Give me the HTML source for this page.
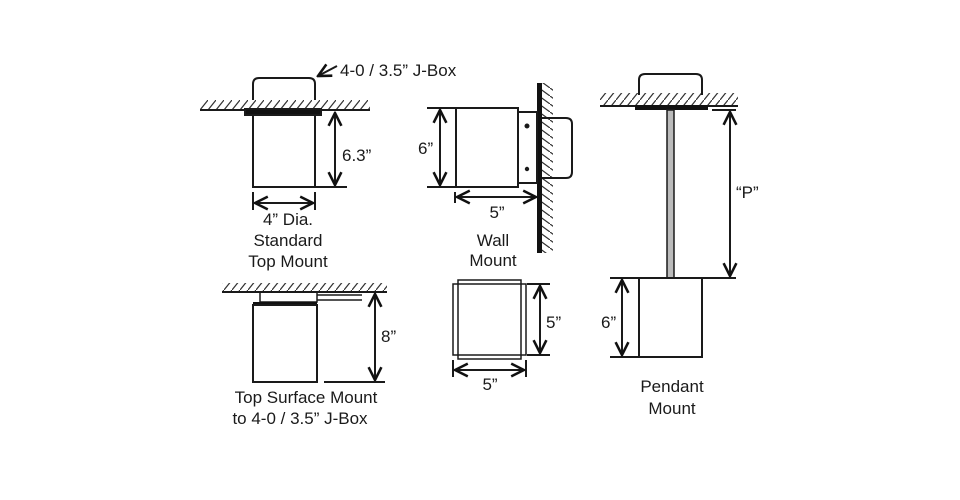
<!DOCTYPE html>
<html><head><meta charset="utf-8"><style>html,body{margin:0;padding:0;background:#fff}svg{display:block}</style></head>
<body>
<svg width="960" height="500" viewBox="0 0 960 500" xmlns="http://www.w3.org/2000/svg" font-family="Liberation Sans, Arial, sans-serif" fill="none" stroke="#1a1a1a">
<defs>
<pattern id="h" width="8" height="10" patternUnits="userSpaceOnUse"><path d="M0 10 L8 0" stroke="#333" stroke-width="1.2"/></pattern>
<pattern id="hv" width="11" height="8" patternUnits="userSpaceOnUse"><path d="M0 0 L11 8" stroke="#333" stroke-width="1.2"/></pattern>
<marker id="a" viewBox="0 0 10 10" refX="9" refY="5" markerWidth="8" markerHeight="8" orient="auto-start-reverse"><path d="M1 1 L9 5 L1 9" stroke="#111" stroke-width="1.6" fill="none"/></marker>
</defs>
<g stroke-width="2">
<!-- Standard top mount -->
<rect x="200" y="100" width="170" height="10" fill="url(#h)" stroke="none"/>
<line x1="200" y1="110" x2="370" y2="110"/>
<path d="M253 100 V84 Q253 78 259 78 H309 Q315 78 315 84 V100"/>
<rect x="245" y="109" width="76" height="6" fill="#111"/>
<rect x="253" y="115" width="62" height="72"/>
<line x1="335" y1="113" x2="335" y2="185" marker-start="url(#a)" marker-end="url(#a)"/>
<line x1="315" y1="187" x2="347" y2="187"/>
<line x1="253" y1="192" x2="253" y2="210"/><line x1="315" y1="192" x2="315" y2="210"/>
<line x1="255" y1="203" x2="313" y2="203" marker-start="url(#a)" marker-end="url(#a)"/>
<line x1="337" y1="66" x2="318" y2="76" marker-end="url(#a)"/>
<!-- Wall mount -->
<rect x="542" y="83" width="11" height="170" fill="url(#hv)" stroke="none"/>
<rect x="537" y="83" width="5" height="170" fill="#111" stroke="none"/>
<path d="M542 118 H566 Q572 118 572 124 V172 Q572 178 566 178 H542"/>
<rect x="518" y="112" width="19" height="71"/>
<circle cx="527" cy="126" r="1.5" fill="#111"/><circle cx="527" cy="169" r="1.2" fill="#111"/>
<rect x="456" y="108" width="62" height="79"/>
<line x1="427" y1="108" x2="456" y2="108"/><line x1="427" y1="187" x2="456" y2="187"/>
<line x1="440" y1="110" x2="440" y2="185" marker-start="url(#a)" marker-end="url(#a)"/>
<line x1="455" y1="192" x2="455" y2="203"/>
<line x1="457" y1="197" x2="536" y2="197" marker-start="url(#a)" marker-end="url(#a)"/>
<!-- Top surface -->
<rect x="222" y="283" width="165" height="9" fill="url(#h)" stroke="none"/>
<line x1="222" y1="292" x2="387" y2="292"/>
<rect x="260" y="292" width="57" height="10" stroke-width="1.5"/>
<rect x="253" y="302" width="64" height="4" fill="#111" stroke="none"/>
<rect x="253" y="305" width="64" height="77"/>
<line x1="317" y1="295" x2="362" y2="295" stroke-width="1.5"/><line x1="317" y1="300" x2="362" y2="300" stroke-width="1.5"/>
<line x1="375" y1="294" x2="375" y2="380" marker-start="url(#a)" marker-end="url(#a)"/>
<line x1="324" y1="382" x2="385" y2="382"/>
<!-- square -->
<rect x="453" y="284" width="73" height="71" stroke-width="1.5"/>
<rect x="458" y="280" width="63" height="79" stroke-width="1.5"/>
<line x1="527" y1="284" x2="550" y2="284"/><line x1="527" y1="355" x2="550" y2="355"/>
<line x1="540" y1="286" x2="540" y2="353" marker-start="url(#a)" marker-end="url(#a)"/>
<line x1="453" y1="360" x2="453" y2="377"/><line x1="526" y1="360" x2="526" y2="377"/>
<line x1="455" y1="370" x2="524" y2="370" marker-start="url(#a)" marker-end="url(#a)"/>
<!-- Pendant -->
<rect x="600" y="93" width="138" height="13" fill="url(#h)" stroke="none"/>
<line x1="600" y1="106" x2="738" y2="106"/>
<path d="M639 95 V80 Q639 74 645 74 H696 Q702 74 702 80 V95"/>
<rect x="635" y="105" width="73" height="5" fill="#111" stroke="none"/>
<rect x="667" y="110" width="7" height="168" fill="#bbb" stroke-width="1.5"/>
<rect x="639" y="278" width="63" height="79"/>
<line x1="712" y1="110" x2="736" y2="110"/><line x1="702" y1="278" x2="736" y2="278"/>
<line x1="730" y1="112" x2="730" y2="276" marker-start="url(#a)" marker-end="url(#a)"/>
<line x1="610" y1="278" x2="639" y2="278"/><line x1="610" y1="357" x2="639" y2="357"/>
<line x1="622" y1="280" x2="622" y2="355" marker-start="url(#a)" marker-end="url(#a)"/>
</g>
<g fill="#1a1a1a" stroke="none" font-size="17">
<text x="340" y="76">4-0 / 3.5” J-Box</text>
<text x="342" y="161">6.3”</text>
<text x="288" y="225" text-anchor="middle">4” Dia.</text>
<text x="288" y="246" text-anchor="middle">Standard</text>
<text x="288" y="267" text-anchor="middle">Top Mount</text>
<text x="418" y="154">6”</text>
<text x="497" y="218" text-anchor="middle">5”</text>
<text x="493" y="246" text-anchor="middle">Wall</text>
<text x="493" y="266" text-anchor="middle">Mount</text>
<text x="381" y="342">8”</text>
<text x="306" y="403" text-anchor="middle">Top Surface Mount</text>
<text x="300" y="424" text-anchor="middle">to 4-0 /  3.5” J-Box</text>
<text x="546" y="328">5”</text>
<text x="490" y="390" text-anchor="middle">5”</text>
<text x="736" y="198">“P”</text>
<text x="601" y="328">6”</text>
<text x="672" y="392" text-anchor="middle">Pendant</text>
<text x="672" y="414" text-anchor="middle">Mount</text>
</g>
</svg>
</body></html>
